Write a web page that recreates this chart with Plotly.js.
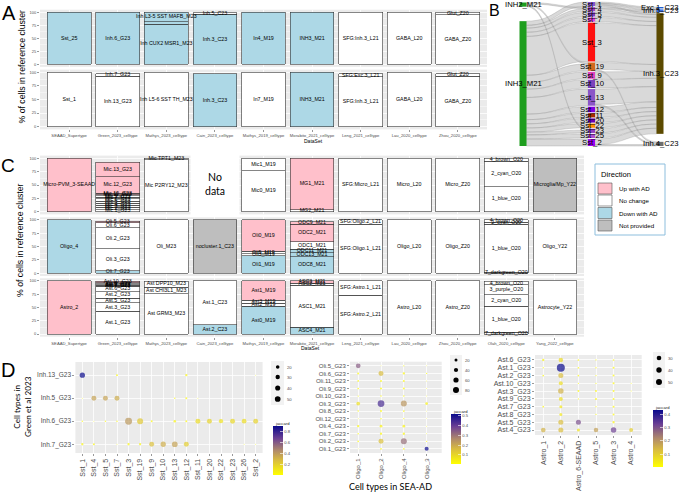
<!DOCTYPE html>
<html><head><meta charset="utf-8">
<script src="https://cdn.plot.ly/plotly-3.0.1.min.js"></script>
<style>html,body{margin:0;padding:0;background:#fff}#chart{width:680px;height:493px}</style>
</head><body><div id="chart"></div>
<script>
// ================= DATA =================
// ---- Panel A (facets: Sst_25, Sst_1) ----
const dataSetsA = ["SEAAD_Supertype","Green_2023_celltype","Mathys_2023_celltype","Cain_2023_celltype","Mathys_2019_celltype","Morabito_2021_celltype","Leng_2021_celltype","Lau_2020_celltype","Zhou_2020_celltype"];
const sst25Names = [["Sst_25"],["Inh.6_G23"],["Inh CUX2 MSR1_M23","","Inh L3-5 SST MAFB_M23"],["Inh.3_C23","Inh.5_C23"],["In4_M19"],["INH3_M21"],["SFG:Inh.3_L21"],["GABA_L20"],["GABA_Z20","Glut_Z20"]];
const sst25Pct   = [[100],[100],[77.5,4.5,18],[96,3],[100],[100],[100],[100],[95,5]];
const sst25Dir   = [["D"],["D"],["D","D","D"],["D","N"],["D"],["D"],["N"],["N"],["N","N"]];
const sst1Names  = [["Sst_1"],["Inh.13_G23","Inh.7_G23"],["Inh L5-6 SST TH_M23"],["Inh.3_C23"],["In7_M19"],["INH3_M21"],["SFG:Inh.3_L21","SFG:Exc.3_L21"],["GABA_L20"],["GABA_Z20","Glut_Z20"]];
const sst1Pct    = [[100],[93,4],[100],[97],[100],[100],[92,5],[100],[93,4]];
const sst1Dir    = [["N"],["N","N"],["N"],["D"],["N"],["D"],["N","N"],["N"],["N","N"]];

// ---- Panel B (alluvial) ----
const sankeyNodes = ["INH2_M21","INH3_M21","Sst_1","Sst_4","Sst_5","Sst_7","Sst_3","Sst_19","Sst_9","Sst_10","Sst_13","Sst_12","Sst_11","Sst_20","Sst_22","Sst_23","Sst_25","Sst_2","Exc.1_C23","Inh.5_C23","Inh.3_C23","Inh.4_C23"];
const sankeyColors = ["#1E9E1E","#1E9E1E","#8855CC","#A040C0","#7F3FBF","#E040E0","#FF1010","#D2691E","#E040C0","#7B42BC","#8B55C8","#8000E0","#A52A00","#6A00B0","#FF8C00","#9040C0","#B050D0","#A000F0","#1F5FCC","#3A6FE0","#5C4A00","#6E6E6E"];
const linkSource = ["INH2_M21","INH2_M21","INH2_M21","INH3_M21","INH3_M21","INH3_M21","INH3_M21","INH3_M21","INH3_M21","INH3_M21","INH3_M21","INH3_M21","INH3_M21","INH3_M21","INH3_M21","INH3_M21","INH3_M21","INH3_M21","INH3_M21",
  "Sst_1","Sst_1","Sst_1","Sst_4","Sst_4","Sst_5","Sst_7","Sst_3","Sst_19","Sst_19","Sst_9","Sst_10","Sst_13","Sst_13","Sst_12","Sst_11","Sst_20","Sst_22","Sst_23","Sst_25","Sst_2","Sst_2"];
const linkTarget = ["Sst_4","Sst_19","Sst_23","Sst_1","Sst_4","Sst_5","Sst_7","Sst_3","Sst_19","Sst_9","Sst_10","Sst_13","Sst_12","Sst_11","Sst_20","Sst_22","Sst_23","Sst_25","Sst_2",
  "Exc.1_C23","Inh.5_C23","Inh.3_C23","Inh.5_C23","Inh.3_C23","Inh.3_C23","Inh.3_C23","Inh.3_C23","Inh.3_C23","Inh.4_C23","Inh.3_C23","Inh.3_C23","Inh.3_C23","Inh.4_C23","Inh.3_C23","Inh.3_C23","Inh.3_C23","Inh.3_C23","Inh.3_C23","Inh.3_C23","Inh.3_C23","Inh.4_C23"];
const linkValue  = [1,1,1,3,2,3,3,28,5,5,6,12,4,3,3,3,2,3,5,
  1,1,1,1,2,3,3,28,5,1,5,6,11,1,4,3,3,3,3,3,4,1];

// ---- Panel C (facets: Micro, Oligo, Astro) ----
const dataSetsC = ["SEAAD_Supertype","Green_2023_celltype","Mathys_2023_celltype","Cain_2023_celltype","Mathys_2019_celltype","Morabito_2021_celltype","Leng_2021_celltype","Lau_2020_celltype","Zhou_2020_celltype","Olah_2020_celltype","Yang_2022_celltype"];
const microNames = [["Micro-PVM_3-SEAAD"],["Mic.1_G23","Mic.2_G23","Mic.3_G23","Mic.4_G23","Mic.5_G23","Mic.6_G23","Mic.7_G23","Mic.9_G23","Mic.11_G23","Mic.10_G23","Mic.12_G23","Mic.13_G23"],["Mic P2RY12_M23","Mic TPT1_M23"],[],["Mic0_M19","Mic1_M19"],["MG2_M21","MG1_M21"],["SFG:Micro_L21"],["Micro_L20"],["Micro_Z20"],["1_blue_O20","2_cyan_O20","4_brown_O20"],["Microglia/Mp_Y22"]];
const microPct   = [[100],[4,4,4,4,4,4,3,3,2,3,30,28],[97,3],[],[77,23],[4,96],[100],[100],[100],[47,47,6],[100]];
const microDir   = [["U"],["N","N","N","N","N","N","N","N","N","U","U","U"],["N","N"],[],["N","N"],["N","U"],["N"],["N"],["N"],["N","N","N"],["P"]];
const oligoNames = [["Oligo_4"],["Oli.7_G23","Oli.3_G23","Oli.2_G23","Oli.6_G23","Oli.5_G23"],["Oli_M23"],["nocluster.1_C23"],["Oli1_M19","Oli3_M19","Oli5_M19","Oli0_M19"],["ODC8_M21","ODC13_M21","ODC11_M21","ODC1_M21","ODC2_M21","ODC9_M21"],["SFG:Oligo.1_L21","SFG:Oligo.2_L21"],["Oligo_L20"],["Oligo_Z20"],["7_darkgreen_O20","1_blue_O20","2_cyan_O20","4_brown_O20"],["Oligo_Y22"]];
const oligoPct   = [[100],[4.4,41.6,39,10,3],[100],[100],[32.5,4.5,4,59],[31,8,6,14,33,5],[92,8],[100],[100],[2,90,4,4],[100]];
const oligoDir   = [["D"],["D","N","N","N","U"],["N"],["P"],["D","N","N","U"],["D","D","D","N","U","U"],["N","N"],["N"],["N"],["N","N","N","N"],["N"]];
const astroNames = [["Astro_2"],["Ast.1_G23","Ast.3_G23","Ast.5_G23","Ast.2_G23","Ast.6_G23","Ast.7_G23","Ast.4_G23","Ast.9_G23","Ast.8_G23","Ast.10_G23"],["Ast GRM3_M23","Ast CHI3L1_M23","Ast DPP10_M23"],["Ast.2_C23","Ast.1_C23"],["Ast0_M19","Ast2_M19","Ast3_M19","Ast1_M19"],["ASC4_M21","ASC1_M21","ASC2_M21","ASC3_M21"],["SFG:Astro.2_L21","SFG:Astro.1_L21"],["Astro_L20"],["Astro_Z20"],["7_darkgreen_O20","1_blue_O20","2_cyan_O20","3_purple_O20","4_brown_O20"],["Astrocyte_Y22"]];
const astroPct   = [[100],[42.5,16,9,12.5,10,1.5,1,2,2,3],[75.5,13,11],[17.5,82.5],[52,6,6,36],[12.5,79.5,4,4],[73,27],[100],[100],[3,49,21.75,18.75,6.5],[100]];
const astroDir   = [["U"],["N","N","N","N","N","N","N","N","N","U"],["N","N","N"],["D","N"],["D","N","N","U"],["D","N","N","U"],["N","N"],["N"],["N"],["N","N","N","N","N"],["N"]];
const directionKeys   = ["U","N","D","P"];
const directionLabels = ["Up with AD","No change","Down with AD","Not provided"];

// ---- Panel D (dot plots: percent = size, jaccard = colour) ----
const d1X = ["Sst_1","Sst_4","Sst_5","Sst_7","Sst_3","Sst_19","Sst_9","Sst_10","Sst_13","Sst_12","Sst_11","Sst_20","Sst_22","Sst_23","Sst_26","Sst_2"];
const d1Y = ["Inh.13_G23","Inh.5_G23","Inh.6_G23","Inh.7_G23"];
const d1Pct = [
  [43,null,null,6,null,null,null,null,null,8,null,null,null,null,null,1.5],
  [1.5,38,38,38,null,null,null,null,3.5,6,1.5,null,null,null,null,null],
  [3.5,1.5,3.5,3.5,75,55,6,null,9.6,6,38,38,28,38,34,38],
  [8,6,null,1.5,8,8,38,43,50,38,null,null,null,null,1.5,1.5]];
const d1Jac = [
  [0.9,null,null,0.03,null,null,null,null,null,0.04,null,null,null,null,null,0.01],
  [0.01,0.36,0.36,0.33,null,null,null,null,0.02,0.03,0.01,null,null,null,null,null],
  [0.02,0.01,0.02,0.02,0.4,0.22,0.04,null,0.05,0.04,0.15,0.18,0.12,0.16,0.14,0.18],
  [0.05,0.04,null,0.01,0.04,0.05,0.25,0.32,0.36,0.2,null,null,null,null,0.01,0.01]];
const d1SizeBreaks = [20,30,40,50];
const d1ColorTicks = [0.2,0.4,0.6,0.8];

const d2X = ["Oligo_1","Oligo_2","Oligo_4","Oligo_3"];
const d2Y = ["Oli.5_G23","Oli.6_G23","Oli.11_G23","Oli.9_G23","Oli.10_G23","Oli.3_G23","Oli.8_G23","Oli.12_G23","Oli.4_G23","Oli.7_G23","Oli.2_G23","Oli.1_G23"];
const d2Pct = [[49,2,3.7,2],[9,55,12,3.7],[6.4,9,9,2],[6.4,9,9,2],[3.7,5,5,2],[30,100,80,16],[5,9,6.4,2],[2,5,3.7,1.4],[12,16,16,2],[5,12,12,2],[6.4,55,80,3.7],[2,6.4,6.4,36]];
const d2Jac = [[0.34,0.01,0.01,0.01],[0.02,0.16,0.03,0.01],[0.02,0.02,0.02,0.01],[0.02,0.02,0.02,0.01],[0.01,0.01,0.01,0.01],[0.08,0.44,0.24,0.04],[0.01,0.02,0.02,0.01],[0.01,0.01,0.01,0.01],[0.03,0.04,0.04,0.01],[0.01,0.03,0.03,0.01],[0.02,0.15,0.31,0.01],[0.01,0.02,0.02,0.52]];
const d2SizeBreaks = [20,40,60,80];
const d2ColorTicks = [0.1,0.2,0.3,0.4,0.5];

const d3X = ["Astro_1","Astro_2","Astro_6-SEAAD","Astro_5","Astro_3","Astro_4"];
const d3Y = ["Ast.6_G23","Ast.1_G23","Ast.2_G23","Ast.10_G23","Ast.3_G23","Ast.9_G23","Ast.7_G23","Ast.8_G23","Ast.5_G23","Ast.4_G23"];
const d3Pct = [[7.4,28,4,2.3,4,null],[2.3,89,4,2.3,5.6,null],[4,35,4,2.3,5.6,null],[null,22,2.3,2.3,5.6,1.4],[null,42,5.6,5.6,5.6,1.4],[null,22,2.3,5.6,5.6,null],[4,12.5,null,2.3,5.6,null],[null,12.5,null,2.3,5.6,null],[null,35,35,null,7.4,null],[31,35,12.5,28,42,22]];
const d3Jac = [[0.03,0.08,0.02,0.01,0.02,null],[0.01,0.43,0.02,0.01,0.02,null],[0.02,0.13,0.02,0.01,0.02,null],[null,0.07,0.01,0.01,0.02,0.005],[null,0.15,0.02,0.02,0.02,0.005],[null,0.07,0.01,0.02,0.02,null],[0.02,0.05,null,0.01,0.02,null],[null,0.05,null,0.01,0.02,null],[null,0.13,0.3,null,0.03,null],[0.15,0.13,0.06,0.18,0.32,0.1]];
const d3SizeBreaks = [30,40,50];
const d3ColorTicks = [0.1,0.2,0.3,0.4];

// ================= BUILD =================
const W = 680, H = 493;
const FONT = 'Liberation Sans, Arial, sans-serif';
const FONT2 = 'Lato, Open Sans, sans-serif';
const px = v => v / W;
const py = v => 1 - v / H;
const dirColor = {U:'#FFC0CB', N:'#FFFFFF', D:'#ADD8E6', P:'#BEBEBE'};
const CS = [[0,'#FFFF00'],[0.3,'#D9BC3F'],[0.5,'#B08A6A'],[0.75,'#6B3F94'],[1,'#0A0A8C']];
const traces = [], annotations = [], shapes = [];
const layout = {width:W, height:H, margin:{l:0,r:0,t:0,b:0,pad:0}, paper_bgcolor:'#FFFFFF', plot_bgcolor:'#EBEBEB',
  barmode:'stack', showlegend:false, hovermode:false, font:{family:FONT, size:6, color:'#000'}, annotations, shapes};

function axisNames(k){ return k===1 ? ['xaxis','yaxis','x','y'] : ['xaxis'+k,'yaxis'+k,'x'+k,'y'+k]; }
function ann(text, x, y, size, extra){
  annotations.push(Object.assign({text, x:px(x), y:py(y), xref:'paper', yref:'paper', showarrow:false,
    xanchor:'center', yanchor:'middle', font:{size, color:'#000', family:FONT}}, extra||{}));
}

function barFacet(k, cats, names, pct, dirs, xr, yr, showX){
  const [xa, ya, xid, yid] = axisNames(k);
  layout[xa] = {domain:[px(xr[0]),px(xr[1])], range:[-0.6, cats.length-0.4], anchor:yid,
    tickmode:'array', tickvals:cats.map((_,i)=>i), ticktext:cats, tickangle:0,
    showticklabels:showX, ticks:showX?'outside':'', ticklen:2, tickwidth:0.5, tickcolor:'#333',
    tickfont:{size:4.2,color:'#4D4D4D'}, showgrid:true, gridcolor:'#FFFFFF', gridwidth:0.8, zeroline:false, showline:false};
  layout[ya] = {domain:[py(yr[1]),py(yr[0])], range:[-5,105], anchor:xid, tickmode:'array', tickvals:[0,25,50,75,100],
    ticks:'outside', ticklen:2, tickwidth:0.5, tickcolor:'#333', tickfont:{size:4,color:'#4D4D4D'},
    showgrid:true, gridcolor:'#FFFFFF', gridwidth:0.8, zeroline:false, showline:false,
    minor:{tickvals:[12.5,37.5,62.5,87.5], showgrid:true, gridcolor:'#FFFFFF', gridwidth:0.4}};
  const maxK = Math.max(...pct.map(p=>p.length));
  for(let s=0;s<maxK;s++){
    const xs=[], ys=[], cs=[];
    pct.forEach((p,j)=>{ if(s<p.length){ xs.push(j); ys.push(p[s]); cs.push(dirColor[dirs[j][s]]); } });
    traces.push({type:'bar', x:xs, y:ys, xaxis:xid, yaxis:yid, width:0.9,
      marker:{color:cs, line:{color:'#333333', width:0.6}}, hoverinfo:'skip'});
  }
  const lx=[], ly=[], lt=[];
  pct.forEach((p,j)=>{ let c=0; p.forEach((v,s)=>{ if(names[j][s]){ lx.push(j); ly.push(c+v/2); lt.push(names[j][s]); } c+=v; }); });
  traces.push({type:'scatter', mode:'text', x:lx, y:ly, text:lt, textposition:'middle center',
    textfont:{size:5.3, color:'#000', family:FONT}, xaxis:xid, yaxis:yid, cliponaxis:false, hoverinfo:'skip'});
}

// Panel A
barFacet(1, dataSetsA, sst25Names, sst25Pct, sst25Dir, [40,487], [9.7,66.9], false);
barFacet(2, dataSetsA, sst1Names, sst1Pct, sst1Dir, [40,487], [69.6,129.4], true);
// Panel C
barFacet(3, dataSetsC, microNames, microPct, microDir, [40,584], [155.6,214.4], false);
barFacet(4, dataSetsC, oligoNames, oligoPct, oligoDir, [40,584], [217.3,276.0], false);
barFacet(5, dataSetsC, astroNames, astroPct, astroDir, [40,584], [278.3,336.7], true);

// Panel D
function dotPanel(k, xCats, yCats, pct, jac, xr, yr, xRange, yRange, sref, cmin, cmax, cb, fx, fy){
  const [xa, ya, xid, yid] = axisNames(k);
  const n = yCats.length;
  layout[xa] = {domain:[px(xr[0]),px(xr[1])], range:xRange, anchor:yid, tickmode:'array',
    tickvals:xCats.map((_,i)=>i), ticktext:xCats, tickangle:-90, ticks:'outside', ticklen:2, tickwidth:0.5, tickcolor:'#333',
    tickfont:{size:fx,color:'#4D4D4D'}, showgrid:true, gridcolor:'#FFFFFF', gridwidth:0.8, zeroline:false, showline:false};
  layout[ya] = {domain:[py(yr[1]),py(yr[0])], range:yRange, anchor:xid, tickmode:'array',
    tickvals:yCats.map((_,i)=>n-1-i), ticktext:yCats, ticks:'outside', ticklen:2, tickwidth:0.5, tickcolor:'#333',
    tickfont:{size:fy,color:'#4D4D4D'}, showgrid:true, gridcolor:'#FFFFFF', gridwidth:0.8, zeroline:false, showline:false};
  const xs=[], ys=[], ss=[], cs=[];
  yCats.forEach((_,i)=>xCats.forEach((_,j)=>{ const v=pct[i][j]; if(v!=null){ xs.push(j); ys.push(n-1-i); ss.push(v); cs.push(jac[i][j]); } }));
  traces.push({type:'scatter', mode:'markers', x:xs, y:ys, xaxis:xid, yaxis:yid, hoverinfo:'skip', cliponaxis:false,
    marker:{size:ss, sizemode:'area', sizeref:sref, sizemin:0.4, color:cs, cmin, cmax, colorscale:CS, line:{width:0},
      showscale:true, colorbar:Object.assign({xanchor:'left', yanchor:'top', lenmode:'pixels', thicknessmode:'pixels', thickness:10,
        xpad:0, ypad:0, outlinewidth:0, borderwidth:0, ticks:'inside', ticklen:3, tickwidth:0.6, tickcolor:'#FFFFFF',
        tickfont:{size:4.2,color:'#4D4D4D'}, title:{text:''}}, cb)}});
}
function sizeLegend(vals, sref, cx, cys, lx, box){
  shapes.push({type:'rect', xref:'paper', yref:'paper', x0:px(box[0]), x1:px(box[1]), y0:py(box[3]), y1:py(box[2]), fillcolor:'#F2F2F2', line:{width:0}});
  vals.forEach((v,i)=>{
    const r = Math.sqrt(v/2/sref);
    shapes.push({type:'circle', xref:'paper', yref:'paper', xsizemode:'pixel', ysizemode:'pixel', xanchor:px(cx), yanchor:py(cys[i]),
      x0:-r, x1:r, y0:-r, y1:r, fillcolor:'#000', line:{width:0}});
    ann(String(v), lx, cys[i], 4.2, {xanchor:'left', font:{size:4.2,color:'#4D4D4D',family:FONT}});
  });
}
const sref1 = 3.08, sref2 = 4.44, sref3 = 2.78;
dotPanel(6, d1X, d1Y, d1Pct, d1Jac, [75.4,262.6], [362,453], [-0.6,15.6], [-0.38,3.57], sref1, 0, 0.9,
  {x:px(273), y:py(426), len:49, tickvals:d1ColorTicks}, 7, 6.5);
dotPanel(7, d2X, d2Y, d2Pct, d2Jac, [350,441.7], [361.7,453], [-0.36,3.66], [-0.55,11.55], sref2, 0.007, 0.52,
  {x:px(451), y:py(414), len:50, tickvals:d2ColorTicks}, 6, 6);
dotPanel(8, d3X, d3Y, d3Pct, d3Jac, [535,641.7], [355,435], [-0.47,5.6], [-0.64,9.64], sref3, 0.005, 0.43,
  {x:px(653), y:py(410), len:57, tickvals:d3ColorTicks}, 7, 7);
sizeLegend(d1SizeBreaks, sref1, 277.7, [367,377,388,399], 285, [271,284,361,405]);
sizeLegend(d2SizeBreaks, sref2, 456, [360,370,380,390], 463, [450,462,355,395]);
sizeLegend(d3SizeBreaks, sref3, 659, [358,370,382], 666, [653,665,352,388]);
ann('jaccard', 273, 423, 4.2, {xanchor:'left', font:{size:4.2,color:'#222',family:FONT}});
ann('jaccard', 451, 411, 4.2, {xanchor:'left', font:{size:4.2,color:'#222',family:FONT}});
ann('jaccard', 653, 407, 4.2, {xanchor:'left', font:{size:4.2,color:'#222',family:FONT}});

// Panel B sankey
(function(){
  const SX0 = 500, SX1 = 680, SY0 = 2, SY1 = 146, SW = SX1-SX0, SH = SY1-SY0, pad = 1, thick = 7;
  const idx = {}; sankeyNodes.forEach((n,i)=>idx[n]=i);
  const inV = {}, outV = {};
  linkSource.forEach((s,i)=>{ outV[s]=(outV[s]||0)+linkValue[i]; inV[linkTarget[i]]=(inV[linkTarget[i]]||0)+linkValue[i]; });
  const val = n => Math.max(inV[n]||0, outV[n]||0);
  const colOf = n => n.endsWith('_M21') ? 0 : (n.startsWith('Sst') ? 1 : 2);
  const cols = [0,1,2].map(c=>sankeyNodes.filter(n=>colOf(n)===c));
  const ky = Math.min(...cols.map(c=>(SH-(c.length-1)*pad)/c.reduce((s,n)=>s+val(n),0)));
  const colX = [23, 91.5, 160], colTop = [0.5, 0, 5];
  const nx = [], ny = [], centers = {};
  cols.forEach((c,ci)=>{
    let y = colTop[ci];
    c.forEach((n,k)=>{
      const h = val(n)*ky;
      let y0 = y;
      if(ci !== 1 && k === c.length-1) y0 = SH - h;
      centers[n] = [colX[ci], y0 + h/2];
      y = y0 + h + pad;
    });
  });
  sankeyNodes.forEach(n=>{ nx.push(centers[n][0]/SW); ny.push(Math.max(0.001, centers[n][1]/SH)); });
  traces.push({type:'sankey', arrangement:'fixed', domain:{x:[px(SX0),px(SX1)], y:[py(SY1),py(SY0)]},
    node:{label:sankeyNodes, color:sankeyColors, pad:pad, thickness:thick, line:{width:0}, x:nx, y:ny, hoverinfo:'none'},
    link:{source:linkSource.map(s=>idx[s]), target:linkTarget.map(t=>idx[t]), value:linkValue,
      color:'rgba(185,185,185,0.55)', line:{color:'rgba(120,120,120,0.6)', width:0.4}, hoverinfo:'none'},
    textfont:{size:1, color:'rgba(0,0,0,0)'}});
  sankeyNodes.forEach(n=>{
    const [cx, cy] = centers[n];
    ann(n, SX0+cx, SY0+cy, 7.7, {font:{size:7.7,color:'#000',family:FONT}});
  });
})();

// No-data cell in panel C
shapes.push({type:'rect', xref:'paper', yref:'paper', x0:px(190.5), x1:px(239.5), y0:py(215), y1:py(154.5), fillcolor:'#FFFFFF', line:{width:0}, layer:'above'});
ann('No<br>data', 215, 184, 10.5, {font:{size:10.5,color:'#000',family:FONT2}});

// Direction legend
shapes.push({type:'rect', xref:'paper', yref:'paper', x0:px(595), x1:px(665), y0:py(235), y1:py(164), fillcolor:'#FFFFFF', line:{color:'#8DBEDD', width:1}});
ann('Direction', 599, 174, 7.6, {xanchor:'left'});
const keyY = [[183,194],[195,206],[207.5,218.5],[220,231]];
directionKeys.forEach((k,i)=>{
  shapes.push({type:'rect', xref:'paper', yref:'paper', x0:px(598), x1:px(612), y0:py(keyY[i][1]), y1:py(keyY[i][0]), fillcolor:dirColor[k], line:{color:'#555', width:0.6}});
  ann(directionLabels[i], 617, (keyY[i][0]+keyY[i][1])/2, 6.2, {xanchor:'left', font:{size:6.2,color:'#000',family:FONT}});
});

// Titles and panel letters
ann('% of cells in reference cluster', 21.5, 67, 8.7, {textangle:-90});
ann('% of cells in reference cluster', 20, 240, 8.7, {textangle:-90});
ann('DataSet', 313, 140.5, 5, {font:{size:5,color:'#000',family:FONT}});
ann('DataSet', 310, 348, 5, {font:{size:5,color:'#000',family:FONT}});
ann('Cell types in<br>Green et al 2023', 22, 407, 8.2, {textangle:-90, font:{size:8.2,color:'#000',family:FONT2}});
ann('Cell types in SEA-AD', 390, 486, 9, {font:{size:9,color:'#000',family:FONT2}});
ann('A', 9, 13, 20);
ann('B', 494, 10, 16);
ann('C', 8, 165, 19);
ann('D', 8, 370, 20);

Plotly.newPlot('chart', traces, layout, {staticPlot:true, displayModeBar:false});
</script></body></html>
